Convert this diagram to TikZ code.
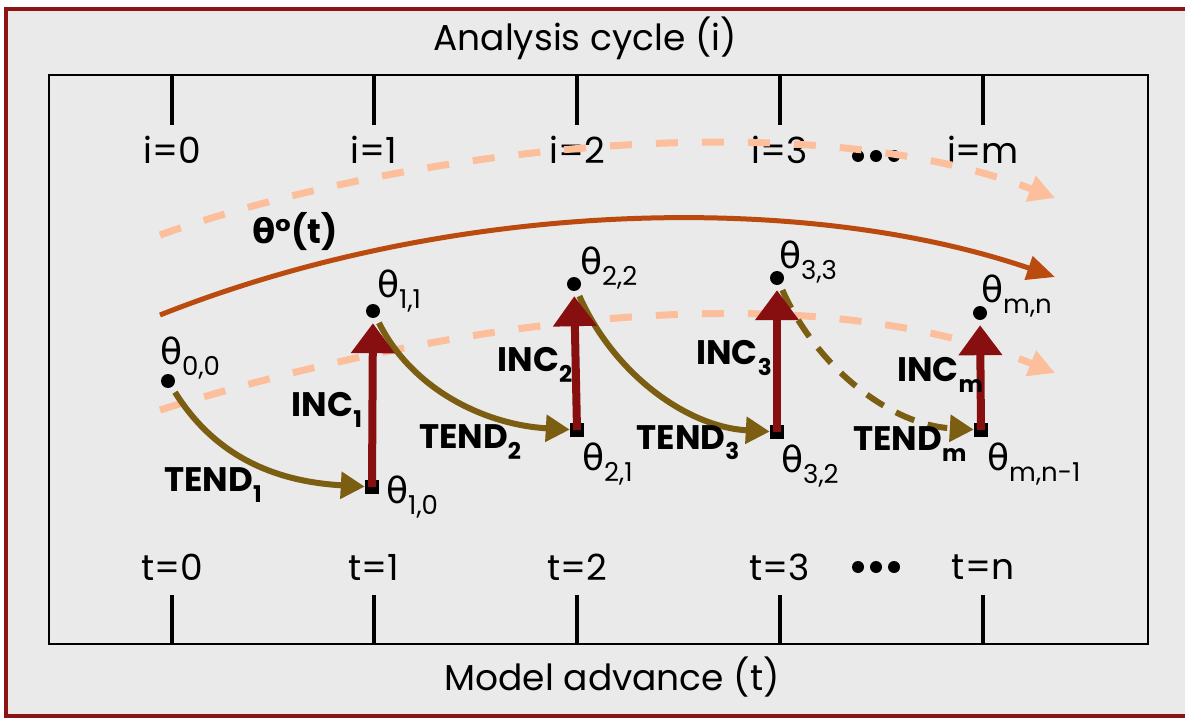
\documentclass[tikz,border=0pt]{standalone}
\usepackage{fontspec}
\setmainfont{Poppins}
\newfontfamily\grk{DejaVu Sans}
\usetikzlibrary{positioning,arrows.meta}

\definecolor{frameRed}{RGB}{140,20,20}
\definecolor{bgGray}{RGB}{234,234,234}
\definecolor{tendOlive}{RGB}{124,94,18}
\definecolor{incRed}{RGB}{135,15,15}
\definecolor{trueOrange}{RGB}{186,74,14}
\definecolor{peach}{RGB}{252,190,155}

\newcommand{\sbs}[1]{\raisebox{-0.3em}{\fontsize{23}{23}\selectfont #1}}
\newcommand{\thsbs}[1]{\raisebox{-0.3em}{\fontsize{26}{26}\selectfont #1}}
\newcommand{\thl}[1]{{\grk θ}\thsbs{#1}}

\begin{document}
\begin{tikzpicture}[
  x=1pt, y=-1pt,
  dot/.style={circle, fill=black, inner sep=0pt, minimum size=14pt},
  sq/.style={rectangle, fill=black, inner sep=0pt, minimum size=14pt},
  lbl/.style={font=\fontsize{36}{36}\selectfont, inner sep=0pt, anchor=west},
  axlbl/.style={font=\fontsize{36}{36}\selectfont, inner sep=0pt},
  boldlbl/.style={font=\fontsize{34}{34}\selectfont\bfseries, inner sep=0pt},
  tick/.style={line width=4pt},
  tend/.style={tendOlive, line width=6pt, shorten <=6pt, -{Triangle[length=24pt,width=26pt]}},
  inc/.style={incRed, line width=8pt, shorten >=5pt, -{Triangle[length=30pt,width=42pt]}},
  truth/.style={trueOrange, line width=5pt, -{Triangle[length=28pt,width=24pt]}},
  spread/.style={peach, line width=7pt, dash pattern=on 22pt off 24pt, -{Triangle[length=26pt,width=26pt]}}
]
  \useasboundingbox (0,0) rectangle (1185,719);
  \clip (0,0) rectangle (1185,719);
  \fill[white] (0,0) rectangle (1185,719);
  \draw[frameRed, line width=4pt, fill=bgGray] (6,9) rectangle (1300,716);

  % axes
  \draw[line width=2.5pt] (49,75) rectangle (1148,644);
  \node[axlbl] (acyc) at (585,38) {Analysis cycle (i)};
  \node[axlbl] (madv) at (612,677) {Model advance (t)};
  \foreach \x/\i/\t in {172/0/0, 374/1/1, 577/2/2, 780/3/3, 983/m/n} {
    \draw[tick] (\x,75) -- (\x,125);
    \draw[tick] (\x,595) -- (\x,644);
    \node[axlbl] at (\x,150) {i=\i};
    \node[axlbl] at (\x,567) {t=\t};
  }
  \foreach \x in {858,876,894} {
    \fill (\x,156) circle (6pt);
    \fill (\x,567) circle (6pt);
  }

  % spread and truth
  \draw[spread] (160,235) .. controls (400,150) and (800,100) .. (1055,198);
  \draw[spread] (160,410) .. controls (450,320) and (800,270) .. (1055,373);
  \draw[truth] (160,315) .. controls (450,200) and (800,190) .. (1055,277);
  \node[boldlbl] at (295,232) {{\grk θ}°(t)};

  % states
  \node[dot] (t00) at (168,381) {};
  \node[sq]  (t10) at (372,487) {};
  \node[dot] (t11) at (373,311) {};
  \node[sq]  (t21) at (577,430) {};
  \node[dot] (t22) at (574,284) {};
  \node[sq]  (t32) at (777,432) {};
  \node[dot] (t33) at (777,278) {};
  \node[sq]  (tmn1) at (981,430) {};
  \node[dot] (tmn) at (980,313) {};

  \node[lbl] at (160,358) {\thl{0,0}};
  \node[lbl] at (386,497) {\thl{1,0}};
  \node[lbl] at (377,291) {\thl{1,1}};
  \node[lbl] at (582,464) {\thl{2,1}};
  \node[lbl] at (580,268) {\thl{2,2}};
  \node[lbl] at (781,466) {\thl{3,2}};
  \node[lbl] at (779,262) {\thl{3,3}};
  \node[lbl] at (987,464) {\thl{m,n-1}};
  \node[lbl] at (981,296) {\thl{m,n}};

  % tendency and increments
  \draw[tend] (t00) .. controls +(50,80) and +(-90,-5) .. (t10);
  \draw[tend] (t11) .. controls +(40,80) and +(-90,-5) .. (t21);
  \draw[tend] (t22) .. controls +(40,90) and +(-90,-5) .. (t32);
  \draw[tend, dash pattern=on 20pt off 14pt] (t33) .. controls +(40,90) and +(-90,-5) .. (tmn1);
  \draw[inc] (t10.center) -- (t11);
  \draw[inc] (t21.center) -- (t22);
  \draw[inc] (t32.center) -- (t33);
  \draw[inc] (tmn1.center) -- (tmn);

  \node[boldlbl] at (213,485) {TEND\sbs{1}};
  \node[boldlbl] at (327,410) {INC\sbs{1}};
  \node[boldlbl] at (470,442) {TEND\sbs{2}};
  \node[boldlbl] at (535,365) {INC\sbs{2}};
  \node[boldlbl] at (688,443) {TEND\sbs{3}};
  \node[boldlbl] at (734,358) {INC\sbs{3}};
  \node[boldlbl] at (910,444) {TEND\sbs{m}};
  \node[boldlbl] at (940,375) {INC\sbs{m}};
\end{tikzpicture}
\end{document}
